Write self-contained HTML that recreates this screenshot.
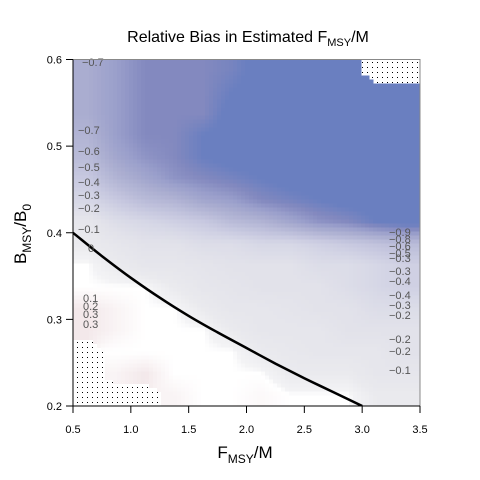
<!DOCTYPE html>
<html><head><meta charset="utf-8"><style>
body{margin:0;background:#fff;}
svg{display:block;font-family:"Liberation Sans",Arial,sans-serif;}
</style></head><body>
<svg id="chart" width="480" height="480" viewBox="0 0 480 480">
<defs>
<pattern id="dots" width="5" height="5" patternUnits="userSpaceOnUse"><rect x="2" y="2" width="1" height="1" fill="#000"/></pattern>
<clipPath id="plotclip"><rect x="73" y="59.5" width="347" height="346.5"/></clipPath>
</defs>
<text x="248" y="42" text-anchor="middle" font-size="16">Relative Bias in Estimated F<tspan font-size="11" dy="4">MSY</tspan><tspan dy="-4">/M</tspan></text>
<g id="plot" clip-path="url(#plotclip)">
<rect x="73" y="59.5" width="347" height="346.5" fill="url(#dots)"/>
<g id="cells"></g>
<path id="curve" fill="none" stroke="#000" stroke-width="2.5"/>
</g>
<g id="labels" font-size="11" fill="#555">
<text x="82" y="66">−0.7</text>
<text x="78" y="134">−0.7</text>
<text x="78" y="155">−0.6</text>
<text x="78" y="171">−0.5</text>
<text x="78" y="186">−0.4</text>
<text x="78" y="199">−0.3</text>
<text x="78" y="212">−0.2</text>
<text x="78" y="233">−0.1</text>
<text x="88" y="252">0</text>
<text x="83" y="302">0.1</text>
<text x="83" y="310">0.2</text>
<text x="83" y="318">0.3</text>
<text x="83" y="328">0.3</text>
<text x="389" y="236">−0.9</text>
<text x="389" y="243">−0.8</text>
<text x="389" y="250">−0.6</text>
<text x="389" y="257">−0.5</text>
<text x="389" y="262">−0.3</text>
<text x="389" y="275">−0.3</text>
<text x="389" y="285">−0.4</text>
<text x="389" y="299">−0.4</text>
<text x="389" y="309">−0.3</text>
<text x="389" y="319">−0.2</text>
<text x="389" y="343">−0.2</text>
<text x="389" y="355">−0.2</text>
<text x="389" y="374">−0.1</text>
</g>
<rect x="73" y="59.5" width="347" height="346.5" fill="none" stroke="#888" stroke-width="1"/>
<line x1="73" y1="59.5" x2="73" y2="406" stroke="#000"/>
<line x1="73" y1="406" x2="420" y2="406" stroke="#000"/>
<g id="xticks"></g>
<g id="yticks"></g>
<text x="245" y="458" text-anchor="middle" font-size="17">F<tspan font-size="12" dy="5">MSY</tspan><tspan dy="-5">/M</tspan></text>
<text transform="translate(26,234) rotate(-90)" text-anchor="middle" font-size="17">B<tspan font-size="12" dy="5">MSY</tspan><tspan dy="-5">/B</tspan><tspan font-size="12" dy="5">0</tspan></text>
</svg>
<script>
const fCenters=[0.625,0.875,1.125,1.375,1.625,1.875,2.125,2.375,2.625,2.875,3.125,3.375];
const bCenters=[0.5875,0.5625,0.5375,0.5125,0.4875,0.4625,0.4375,0.4125,0.3875,0.3625,0.3375,0.3125,0.2875,0.2625,0.2375,0.2125];
const biasRows=[
[-0.55,-0.65,-0.75,-0.75,-0.75,-0.8,-0.9,-0.9,-0.9,-0.9,null,null],
[-0.55,-0.65,-0.75,-0.75,-0.75,-0.85,-0.9,-0.9,-0.9,-0.9,-0.9,-0.9],
[-0.55,-0.65,-0.75,-0.75,-0.75,-0.9,-0.9,-0.9,-0.9,-0.9,-0.9,-0.9],
[-0.5,-0.65,-0.75,-0.75,-0.85,-0.9,-0.9,-0.9,-0.9,-0.9,-0.9,-0.9],
[-0.45,-0.6,-0.7,-0.75,-0.85,-0.9,-0.9,-0.9,-0.9,-0.9,-0.9,-0.9],
[-0.35,-0.5,-0.6,-0.7,-0.75,-0.8,-0.85,-0.9,-0.9,-0.9,-0.9,-0.9],
[-0.25,-0.35,-0.45,-0.5,-0.6,-0.65,-0.75,-0.8,-0.85,-0.9,-0.9,-0.9],
[-0.1,-0.2,-0.25,-0.3,-0.35,-0.45,-0.5,-0.6,-0.7,-0.75,-0.85,-0.9],
[-0.05,-0.1,-0.15,-0.15,-0.2,-0.2,-0.25,-0.25,-0.3,-0.35,-0.4,-0.45],
[0,-0.05,-0.1,-0.1,-0.12,-0.15,-0.15,-0.15,-0.2,-0.2,-0.25,-0.3],
[0,0,0,-0.05,-0.1,-0.12,-0.15,-0.15,-0.15,-0.2,-0.25,-0.3],
[0.1,0.05,0,0,-0.05,-0.1,-0.1,-0.12,-0.15,-0.15,-0.2,-0.2],
[0.1,0.05,0,0,0,-0.05,-0.1,-0.1,-0.1,-0.15,-0.15,-0.15],
[null,0,0,0,0,0,-0.05,-0.08,-0.1,-0.1,-0.1,-0.15],
[null,0.05,0.1,0,0,0,0,-0.05,-0.05,-0.05,-0.1,-0.1],
[null,null,null,0.05,0,0,0.03,0,0,0,-0.05,-0.05]
];
const curveF=[0.5,0.75,1.0,1.25,1.5,1.75,2.0,2.25,2.5,2.75,3.0];
const curveB=[0.4,0.373,0.348,0.325,0.304,0.285,0.267,0.249,0.232,0.216,0.2];
const xTickVals=[0.5,1.0,1.5,2.0,2.5,3.0,3.5];
const xTickLabels=["0.5","1.0","1.5","2.0","2.5","3.0","3.5"];
const yTickVals=[0.2,0.3,0.4,0.5,0.6];
const yTickLabels=["0.2","0.3","0.4","0.5","0.6"];

const X0=73,X1=420,Y0=406,Y1=59.5;
function xs(f){return X0+(f-0.5)/3*(X1-X0);}
function ys(b){return Y0-(b-0.2)/0.4*(Y0-Y1);}
const NS="http://www.w3.org/2000/svg";
const stops=[[-0.85,[106,127,192]],[-0.75,[131,137,191]],[-0.65,[154,159,203]],[-0.55,[170,173,208]],[-0.45,[185,187,216]],[-0.35,[200,201,224]],[-0.25,[214,215,230]],[-0.15,[226,226,234]],[-0.05,[234,234,238]],[-0.01,[243,243,245]],[0,[255,255,255]],[0.1,[243,232,234]],[0.3,[224,184,192]]];
function color(v){
  if(v<=stops[0][0])return 'rgb('+stops[0][1]+')';
  for(let i=1;i<stops.length;i++){
    if(v<=stops[i][0]){const a=stops[i-1],b=stops[i];const t=(v-a[0])/(b[0]-a[0]);
      return 'rgb('+a[1].map((c,k)=>Math.round(c+(b[1][k]-c)*t)).join(',')+')';}
  }
  return 'rgb('+stops[stops.length-1][1]+')';
}
function valAt(f,b){
  let cf=(f-fCenters[0])/0.25, rb=(bCenters[0]-b)/0.025;
  cf=Math.max(0,Math.min(fCenters.length-1,cf)); rb=Math.max(0,Math.min(bCenters.length-1,rb));
  const c0=Math.floor(cf),r0=Math.floor(rb),c1=Math.min(c0+1,fCenters.length-1),r1=Math.min(r0+1,bCenters.length-1);
  const tx=cf-c0,ty=rb-r0;let s=0,w=0,nw=0;
  [[r0,c0,(1-tx)*(1-ty)],[r0,c1,tx*(1-ty)],[r1,c0,(1-tx)*ty],[r1,c1,tx*ty]].forEach(([r,c,ww])=>{const v=biasRows[r][c];if(v===null){nw+=ww;}else if(ww>0){s+=v*ww;w+=ww;}});
  if(nw>0.45||w===0)return null;
  return s/w;
}
const cells=document.getElementById('cells');
const step=4;
for(let py=Y1;py<Y0;py+=step){
  for(let px=X0;px<X1;px+=step){
    const f=0.5+(px+step/2-X0)/(X1-X0)*3;
    const b=0.2+(Y0-(py+step/2))/(Y0-Y1)*0.4;
    const v=valAt(f,b);
    if(v===null)continue;
    const r=document.createElementNS(NS,'rect');
    r.setAttribute('x',px);r.setAttribute('y',py);r.setAttribute('width',step+0.5);r.setAttribute('height',step+0.5);
    r.setAttribute('fill',color(v));
    
    
    cells.appendChild(r);
  }
}
const pts=curveF.map((f,i)=>[xs(f),ys(curveB[i])]);
let d='M'+pts[0][0].toFixed(1)+','+pts[0][1].toFixed(1);
for(let i=0;i<pts.length-1;i++){
  const p0=pts[Math.max(0,i-1)],p1=pts[i],p2=pts[i+1],p3=pts[Math.min(pts.length-1,i+2)];
  const c1=[p1[0]+(p2[0]-p0[0])/6,p1[1]+(p2[1]-p0[1])/6],c2=[p2[0]-(p3[0]-p1[0])/6,p2[1]-(p3[1]-p1[1])/6];
  d+=' C'+c1.map(v=>v.toFixed(1))+' '+c2.map(v=>v.toFixed(1))+' '+p2.map(v=>v.toFixed(1));
}
document.getElementById('curve').setAttribute('d',d);
const xt=document.getElementById('xticks');
xTickVals.forEach((v,i)=>{
  const l=document.createElementNS(NS,'line');
  l.setAttribute('x1',xs(v));l.setAttribute('x2',xs(v));l.setAttribute('y1',406);l.setAttribute('y2',413);l.setAttribute('stroke','#000');
  
  
  xt.appendChild(l);
  const t=document.createElementNS(NS,'text');
  t.setAttribute('x',xs(v));t.setAttribute('y',433);t.setAttribute('text-anchor','middle');t.setAttribute('font-size','11');
  t.textContent=xTickLabels[i];
  
  
  xt.appendChild(t);
});
const yt=document.getElementById('yticks');
yTickVals.forEach((v,i)=>{
  const l=document.createElementNS(NS,'line');
  l.setAttribute('x1',66);l.setAttribute('x2',73);l.setAttribute('y1',ys(v));l.setAttribute('y2',ys(v));l.setAttribute('stroke','#000');
  
  
  yt.appendChild(l);
  const t=document.createElementNS(NS,'text');
  t.setAttribute('x',62);t.setAttribute('y',ys(v)+4);t.setAttribute('text-anchor','end');t.setAttribute('font-size','11');
  t.textContent=yTickLabels[i];
  
  
  yt.appendChild(t);
});
</script>
</body></html>
